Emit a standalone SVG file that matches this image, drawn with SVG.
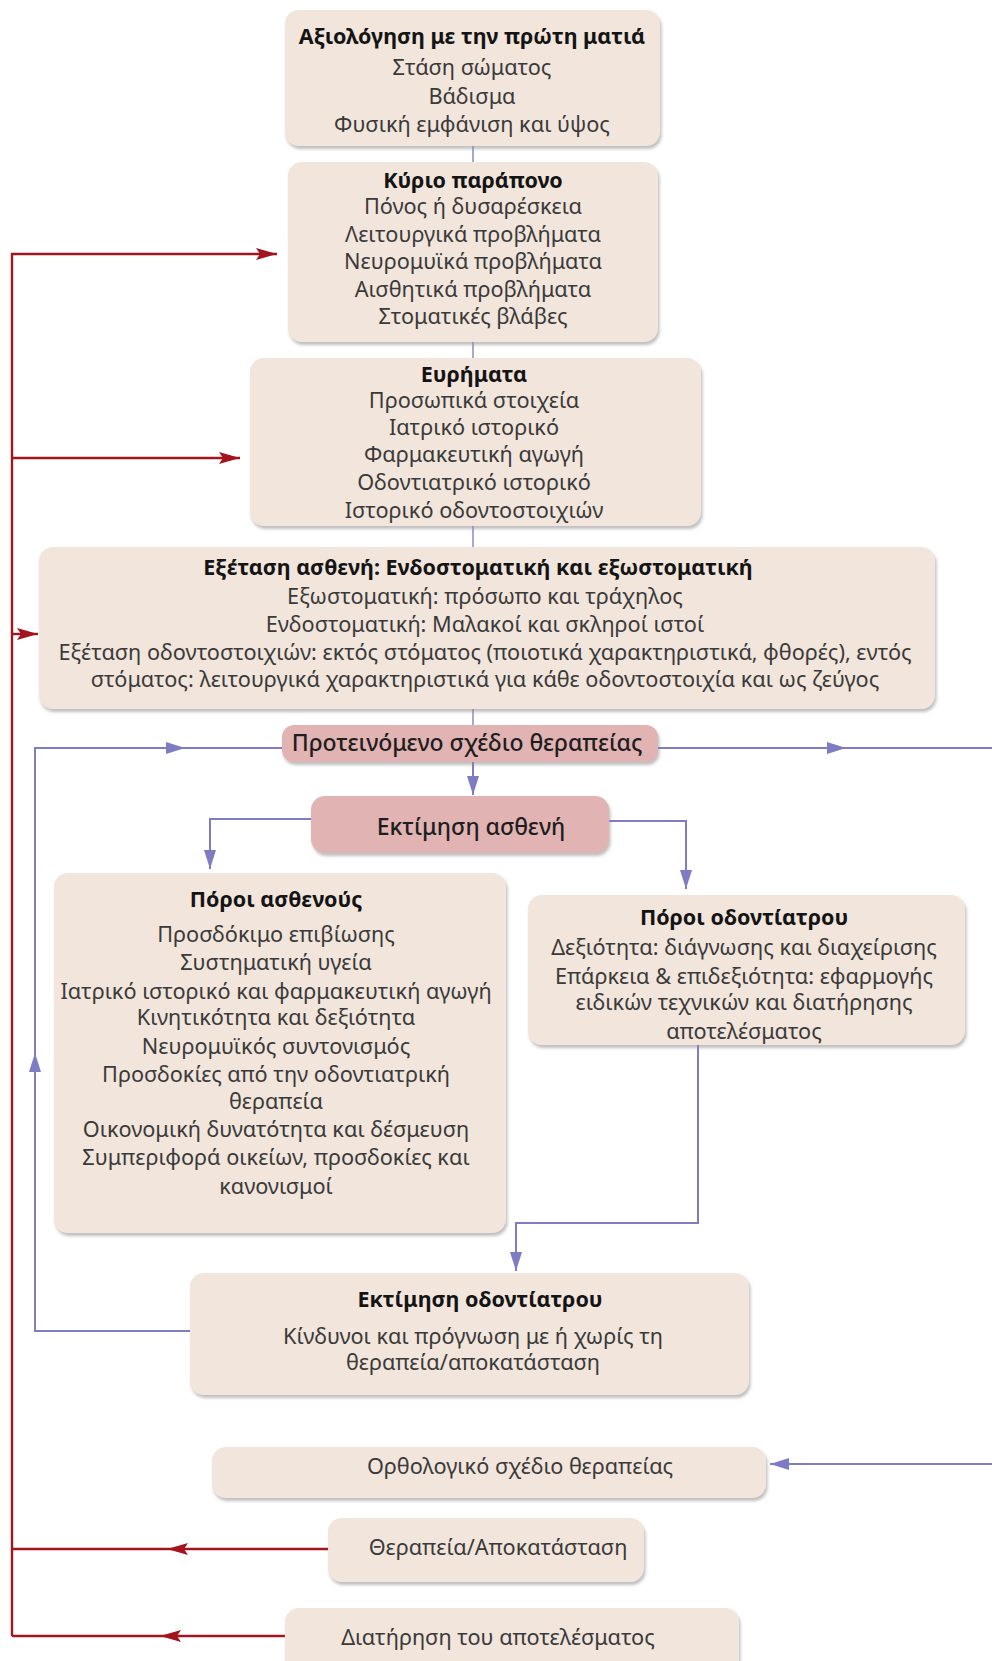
<svg xmlns="http://www.w3.org/2000/svg" width="992" height="1661" viewBox="0 0 992 1661">
<style>
.box{fill:#f1e5dc;filter:url(#sh)}
.pink{fill:#e2b3b3;filter:url(#sh)}
text{font-family:"Noto Sans","Open Sans",sans-serif;text-anchor:middle}
.t{font-size:21.5px;font-weight:bold;fill:#141414}
.b{font-size:21.7px;fill:#3a3a3a}
.p{font-size:23px;font-weight:500;fill:#1e1e1e}
.thin{fill:none;stroke:#6f6fb5;stroke-width:1.2}
.blue{fill:none;stroke:#7f7cc4;stroke-width:2}
.red{fill:none;stroke:#a3141c;stroke-width:2.4}
</style>
<defs>
<filter id="sh" x="-5%" y="-5%" width="110%" height="120%">
<feDropShadow dx="1.5" dy="3" stdDeviation="1.6" flood-color="#8a8a8a" flood-opacity="0.55"/>
</filter>
<marker id="ab" markerWidth="20" markerHeight="12" refX="19" refY="6" orient="auto" markerUnits="userSpaceOnUse">
<path d="M0,0 L19,6 L0,12 Z" fill="#7f7cc4"/>
</marker>
<marker id="ar" markerWidth="22" markerHeight="14" refX="21" refY="7" orient="auto" markerUnits="userSpaceOnUse">
<path d="M0,1 L21,7 L0,13 L4,7 Z" fill="#a3141c"/>
</marker>
</defs>
<rect width="992" height="1661" fill="#ffffff"/>

<g id="connectors">
<path class="thin" d="M473,146 V162 M473,342 V358 M473,526 V547 M473,709 V725"/>
<path class="blue" d="M473,762 V795" marker-end="url(#ab)"/>
<path class="blue" d="M311,819 H210 V869" marker-end="url(#ab)"/>
<path class="blue" d="M609,821 H686 V889" marker-end="url(#ab)"/>
<path class="blue" d="M698,1045 V1223 H516 V1271" marker-end="url(#ab)"/>
<path class="blue" d="M190,1331 H35 V1053" marker-end="url(#ab)"/>
<path class="blue" d="M35,1053 V748 H185" marker-end="url(#ab)"/>
<path class="blue" d="M185,748 H282"/>
<path class="blue" d="M658,748 H846" marker-end="url(#ab)"/>
<path class="blue" d="M846,748 H992"/>
<path class="blue" d="M992,1464 H770" marker-end="url(#ab)"/>
<path class="red" d="M12,1636 V254 H277" marker-end="url(#ar)"/>
<path class="red" d="M12,458 H240" marker-end="url(#ar)"/>
<path class="red" d="M12,634 H38" marker-end="url(#ar)"/>
<path class="red" d="M328,1549 H167" marker-end="url(#ar)"/>
<path class="red" d="M167,1549 H12"/>
<path class="red" d="M285,1636 H160" marker-end="url(#ar)"/>
<path class="red" d="M160,1636 H12"/>
</g>

<g id="n1">
<rect class="box" x="285" y="10" width="375" height="136" rx="14"/>
<text class="t" x="472" y="44">Αξιολόγηση με την πρώτη ματιά</text>
<text class="b" x="472" y="75">Στάση σώματος</text>
<text class="b" x="472" y="104">Βάδισμα</text>
<text class="b" x="472" y="132">Φυσική εμφάνιση και ύψος</text>
</g>

<g id="n2">
<rect class="box" x="288" y="162" width="370" height="180" rx="14"/>
<text class="t" x="473" y="188">Κύριο παράπονο</text>
<text class="b" x="473" y="214">Πόνος ή δυσαρέσκεια</text>
<text class="b" x="473" y="242">Λειτουργικά προβλήματα</text>
<text class="b" x="473" y="269">Νευρομυϊκά προβλήματα</text>
<text class="b" x="473" y="297">Αισθητικά προβλήματα</text>
<text class="b" x="473" y="324">Στοματικές βλάβες</text>
</g>

<g id="n3">
<rect class="box" x="250" y="358" width="451" height="168" rx="14"/>
<text class="t" x="474" y="382">Ευρήματα</text>
<text class="b" x="474" y="408">Προσωπικά στοιχεία</text>
<text class="b" x="474" y="435">Ιατρικό ιστορικό</text>
<text class="b" x="474" y="462">Φαρμακευτική αγωγή</text>
<text class="b" x="474" y="490">Οδοντιατρικό ιστορικό</text>
<text class="b" x="474" y="518">Ιστορικό οδοντοστοιχιών</text>
</g>

<g id="n4">
<rect class="box" x="39" y="547" width="896" height="162" rx="14"/>
<text class="t" x="478" y="575">Εξέταση ασθενή: Ενδοστοματική και εξωστοματική</text>
<text class="b" x="485" y="604">Εξωστοματική: πρόσωπο και τράχηλος</text>
<text class="b" x="485" y="632">Ενδοστοματική: Μαλακοί και σκληροί ιστοί</text>
<text class="b" x="485" y="660">Εξέταση οδοντοστοιχιών: εκτός στόματος (ποιοτικά χαρακτηριστικά, φθορές), εντός</text>
<text class="b" x="485" y="687">στόματος: λειτουργικά χαρακτηριστικά για κάθε οδοντοστοιχία και ως ζεύγος</text>
</g>

<g id="n5">
<rect class="pink" x="282" y="725" width="376" height="37" rx="12"/>
<text class="p" x="467" y="751">Προτεινόμενο σχέδιο θεραπείας</text>
</g>

<g id="n6">
<rect class="pink" x="311" y="796" width="298" height="57" rx="14"/>
<text class="p" x="471" y="835">Εκτίμηση ασθενή</text>
</g>

<g id="n7">
<rect class="box" x="54" y="873" width="452" height="360" rx="14"/>
<text class="t" x="276" y="907">Πόροι ασθενούς</text>
<text class="b" x="276" y="942">Προσδόκιμο επιβίωσης</text>
<text class="b" x="276" y="970">Συστηματική υγεία</text>
<text class="b" x="276" y="999">Ιατρικό ιστορικό και φαρμακευτική αγωγή</text>
<text class="b" x="276" y="1025">Κινητικότητα και δεξιότητα</text>
<text class="b" x="276" y="1054">Νευρομυϊκός συντονισμός</text>
<text class="b" x="276" y="1082">Προσδοκίες από την οδοντιατρική</text>
<text class="b" x="276" y="1109">θεραπεία</text>
<text class="b" x="276" y="1137">Οικονομική δυνατότητα και δέσμευση</text>
<text class="b" x="276" y="1165">Συμπεριφορά οικείων, προσδοκίες και</text>
<text class="b" x="276" y="1194">κανονισμοί</text>
</g>

<g id="n8">
<rect class="box" x="528" y="895" width="437" height="150" rx="14"/>
<text class="t" x="744" y="925">Πόροι οδοντίατρου</text>
<text class="b" x="744" y="955">Δεξιότητα: διάγνωσης και διαχείρισης</text>
<text class="b" x="744" y="984">Επάρκεια &amp; επιδεξιότητα: εφαρμογής</text>
<text class="b" x="744" y="1010">ειδικών τεχνικών και διατήρησης</text>
<text class="b" x="744" y="1039">αποτελέσματος</text>
</g>

<g id="n9">
<rect class="box" x="190" y="1273" width="559" height="122" rx="14"/>
<text class="t" x="480" y="1307">Εκτίμηση οδοντίατρου</text>
<text class="b" x="473" y="1344">Κίνδυνοι και πρόγνωση με ή χωρίς τη</text>
<text class="b" x="473" y="1370">θεραπεία/αποκατάσταση</text>
</g>

<g id="n10">
<rect class="box" x="212" y="1447" width="554" height="51" rx="14"/>
<text class="b" x="520" y="1474">Ορθολογικό σχέδιο θεραπείας</text>
</g>

<g id="n11">
<rect class="box" x="328" y="1518" width="316" height="64" rx="14"/>
<text class="b" x="498" y="1555">Θεραπεία/Αποκατάσταση</text>
</g>

<g id="n12">
<rect class="box" x="285" y="1608" width="454" height="70" rx="14"/>
<text class="b" x="498" y="1645">Διατήρηση του αποτελέσματος</text>
</g>
</svg>
